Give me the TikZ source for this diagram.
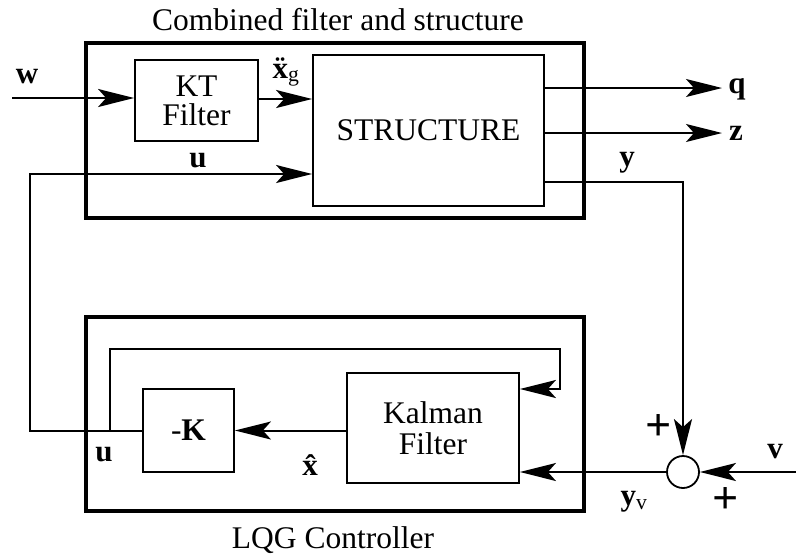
\documentclass[tikz,border=0pt]{standalone}
\usepackage{fontspec}
\setmainfont{Liberation Serif}
\usetikzlibrary{arrows.meta}
\begin{document}
\begin{tikzpicture}[x=1pt,y=-1pt,
  blk/.style={draw,line width=1.8pt,minimum width=#1,inner sep=0pt},
  outer/.style={draw,line width=4.8pt,inner sep=0pt},
  wire/.style={line width=2pt},
  arr/.style={wire,-{Stealth[length=36pt,width=18pt,inset=8pt]}},
  lbl/.style={font=\fontsize{31}{33}\selectfont\bfseries,inner sep=0pt},
  txt/.style={font=\fontsize{31.5}{34}\selectfont,align=center,inner sep=0pt}]
\useasboundingbox (0,0) rectangle (796,558);
% outer boxes
\node[outer,minimum width=498pt,minimum height=175pt] (top) at (335,130.5) {};
\node[outer,minimum width=498pt,minimum height=194pt] (bot) at (335,414) {};
\node[txt] (ttop) at (338,20) {Combined filter and structure};
\node[txt] (tbot) at (333,540) {LQG Controller};
% blocks
\node[blk=123pt,minimum height=81pt,txt] (kt) at (196.5,100.5) {KT\\[-5pt]Filter};
\node[blk=231pt,minimum height=151pt,txt] (st) at (428.5,130.5) {STRUCTURE};
\node[blk=91pt,minimum height=83pt,txt] (k) at (188.5,430.5) {-\textbf{K}};
\node[blk=172pt,minimum height=110pt,txt] (kf) at (433,428) {Kalman\\[-3pt]Filter};
\node[draw,circle,line width=1.8pt,minimum size=32pt,inner sep=0pt] (sum) at (683,472) {};
% coordinates
\coordinate (win) at (12,98);
\coordinate (uc) at (30,174);
\coordinate (yc) at (683,182);
\coordinate (vin) at (796,472);
\coordinate (qout) at (722,88);
\coordinate (zout) at (722,133);
\coordinate (fb0) at (110,431);
\coordinate (fb1) at (110,349);
\coordinate (fb2) at (560,349);
\coordinate (fb3) at (560,389);
% connectors
\draw[arr] (win) -- (win -| kt.west);
\draw[arr] (kt.east |- 0,99) -- (st.west |- 0,99);
\draw[arr] (k.west) -| (uc) -- (uc -| st.west);
\draw[arr] (st.east |- qout) -- (qout);
\draw[arr] (st.east |- zout) -- (zout);
\draw[arr] (st.east |- yc) -- (yc) -- (sum.north);
\draw[arr] (vin) -- (sum.east);
\draw[arr] (sum.west) -- (sum.west -| kf.east);
\draw[arr] (kf.west |- k.east) -- (k.east);
\draw[arr] (fb0) -- (fb1) -- (fb2) -- (fb3) -- (fb3 -| kf.east);
% labels
\node[lbl] (lw) at (27,77) {w};
\node[lbl] (lxg) at (286,72) {\"x\textsubscript{\normalfont g}};
\node[lbl] (lu1) at (198,161) {u};
\node[lbl] (lq) at (737,89) {q};
\node[lbl] (lz) at (736,133) {z};
\node[lbl] (ly) at (627,163) {y};
\node[lbl] (lu2) at (104,455) {u};
\node[lbl] (lxh) at (310,465) {\^x};
\node[lbl] (lv) at (775,452) {v};
\node[lbl] (lyv) at (634,502) {y\textsubscript{\normalfont v}};
\node[lbl,font=\fontsize{46}{46}\selectfont\bfseries] (p1) at (659,427) {+};
\node[lbl,font=\fontsize{46}{46}\selectfont\bfseries] (p2) at (726,500) {+};
\end{tikzpicture}
\end{document}
